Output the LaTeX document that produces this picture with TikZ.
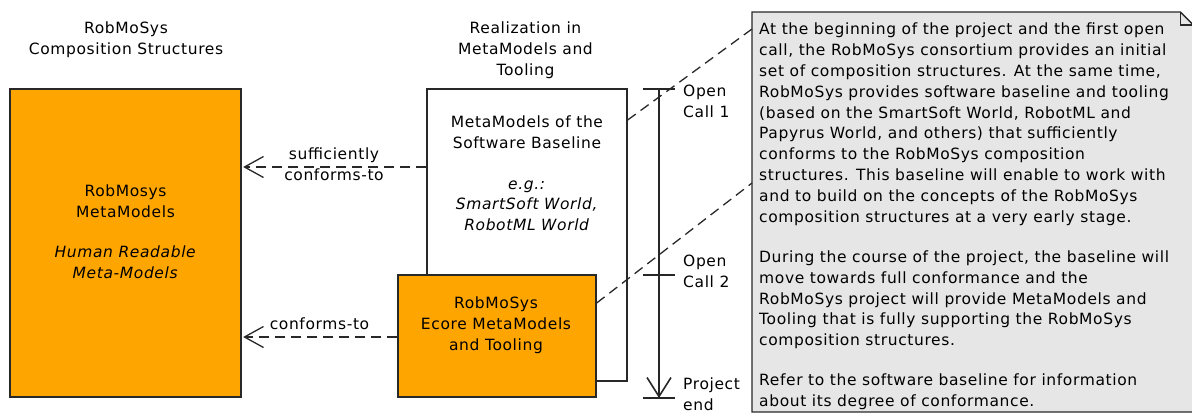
\documentclass[tikz,border=0pt]{standalone}
\usepackage{fontspec}
\setmainfont{DejaVu Sans}[LetterSpace=4]
\usetikzlibrary{arrows.meta}
\definecolor{boxorange}{RGB}{255,165,0}
\definecolor{notegray}{RGB}{230,230,230}
\definecolor{linegray}{RGB}{40,40,40}

\begin{document}
\begin{tikzpicture}
[x=1pt, y=-1pt,
font=\fontsize{15.5}{20.8}\selectfont,
baseshape/.style={draw=linegray, line width=1.3pt, inner sep=0pt},
orangebox/.style={baseshape, rectangle, fill=boxorange},
whitebox/.style={baseshape, rectangle, fill=white},
boxtext/.style={align=center, inner sep=0pt},
conform/.style={line width=1.3pt, draw=linegray, dash pattern=on 10pt off 6pt, shorten >=1.5pt,
  -{Straight Barb[length=19pt, width=21pt, line width=1.3pt]}},
trace/.style={line width=1.3pt, draw=linegray, dash pattern=on 10pt off 6pt},
timeline/.style={line width=1.6pt, draw=black!85, -{Straight Barb[length=19pt, width=24pt, line width=1.6pt]}},
tick/.style={line width=1.6pt, draw=black!85},
notebox/.style={draw=linegray, line width=1.3pt, fill=notegray}]

    \useasboundingbox (0,0) rectangle (1192,413);

    \node (cstitle) [boxtext] at (126,39.5) {RobMoSys\\Composition Structures};
    \node (realtitle) [boxtext] at (525.5,50) {Realization in\\MetaModels and\\Tooling};

    \node (rmm) [orangebox, minimum width=231pt, minimum height=308pt] at (125.5,243) {};
    \node (rmmtext) [boxtext] at (125.5,232) {RobMosys\\MetaModels\\[19.5pt]\textit{Human Readable}\\\textit{Meta-Models}};

    \node (base) [whitebox, minimum width=200pt, minimum height=292pt] at (527,235) {};
    \node (basetext) [boxtext] at (527,173.5) {MetaModels of the\\Software Baseline\\[19.5pt]\textit{e.g.:}\\\textit{SmartSoft World,}\\\textit{RobotML World}};
    \node (ecore) [orangebox, minimum width=198pt, minimum height=122pt] at (497,336) {};
    \node (ecoretext) [boxtext] at (496,325.5) {RobMoSys\\Ecore MetaModels\\and Tooling};

    \draw[conform] (base.west |- 0,167) -- node[boxtext, yshift=3pt]{sufficiently\\conforms-to} (rmm.east |- 0,167);
    \draw[conform] (ecore.west |- 0,337) -- node[boxtext, above=7pt]{conforms-to} (rmm.east |- 0,337);

    \coordinate (call1) at (659,89);
    \coordinate (call2) at (659,275);
    \coordinate (pend) at (659,398);
    \draw[timeline] (call1) -- (pend);
    \foreach \c in {call1,call2,pend}
        \draw[tick] ([xshift=-16pt]\c) -- ([xshift=16pt]\c);

    \node (call1lbl) [boxtext, align=left, anchor=west] at (683,101.5) {Open\\Call 1};
    \node (call2lbl) [boxtext, align=left, anchor=west] at (683,271.5) {Open\\Call 2};
    \node (pendlbl) [boxtext, align=left, anchor=west] at (683,394.5) {Project\\end};

    \node (note) [anchor=north west, minimum width=441pt, minimum height=399.5pt, inner sep=0pt] at (752,12) {};
    \filldraw[notebox] (note.north west) -- ([xshift=-13pt]note.north east) -- ([yshift=-13pt]note.north east)
        -- (note.south east) -- (note.south west) -- cycle;
    \draw[notebox, fill=none] ([xshift=-13pt]note.north east) |- ([yshift=-13pt]note.north east);

    \draw[trace] (base.east |- 0,120) -- (note.west |- 0,29);
    \draw[trace] (ecore.east |- 0,303) -- (note.west |- 0,183);

    \node (notetext) [anchor=north west, align=left, inner sep=0pt] at (759,23) {At the beginning of the project and the first open\\
call, the RobMoSys consortium provides an initial\\
set of composition structures. At the same time,\\
RobMoSys provides software baseline and tooling\\
(based on the SmartSoft World, RobotML and\\
Papyrus World, and others) that sufficiently\\
conforms to the RobMoSys composition\\
structures. This baseline will enable to work with\\
and to build on the concepts of the RobMoSys\\
composition structures at a very early stage.\\[19.5pt]
During the course of the project, the baseline will\\
move towards full conformance and the\\
RobMoSys project will provide MetaModels and\\
Tooling that is fully supporting the RobMoSys\\
composition structures.\\[19.5pt]
Refer to the software baseline for information\\
about its degree of conformance.};
\end{tikzpicture}
\end{document}
